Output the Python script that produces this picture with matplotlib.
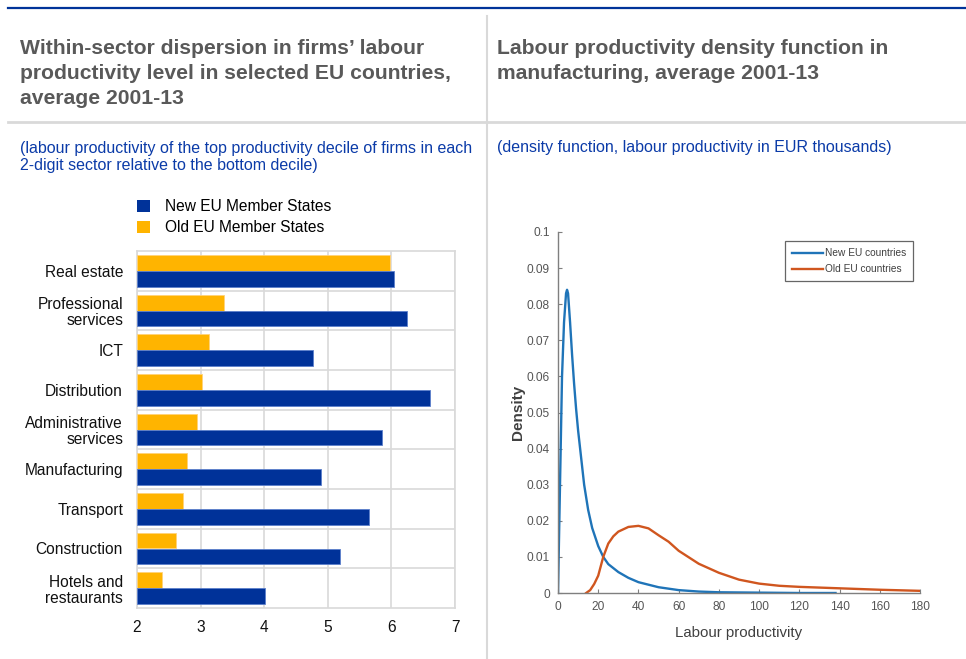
import numpy as np
import matplotlib
matplotlib.use("Agg")
import matplotlib.pyplot as plt
from matplotlib.lines import Line2D
from matplotlib.patches import Patch

plt.rcParams['font.family'] = ['Liberation Sans', 'DejaVu Sans']

# ---------------- data: left panel ----------------
sectors = ["Real estate", "Professional\nservices", "ICT", "Distribution",
           "Administrative\nservices", "Manufacturing", "Transport",
           "Construction", "Hotels and\nrestaurants"]
old_eu = [5.98, 3.37, 3.13, 3.02, 2.95, 2.78, 2.72, 2.61, 2.39]
new_eu = [6.04, 6.25, 4.77, 6.60, 5.85, 4.90, 5.64, 5.19, 4.02]
bar_xticks = [2, 3, 4, 5, 6, 7]

# ---------------- data: right panel ----------------
new_x = [0, 1, 2, 3, 4, 4.5, 5, 6, 7, 8, 9, 10, 11, 12, 13, 15, 17, 20, 22.5,
         25, 30, 35, 40, 50, 60, 70, 80, 100, 120, 138]
new_y = [0, 0.03, 0.06, 0.075, 0.083, 0.084, 0.083, 0.075, 0.066, 0.058, 0.051,
         0.045, 0.040, 0.035, 0.030, 0.023, 0.018, 0.013, 0.010, 0.008, 0.0058,
         0.0042, 0.0030, 0.0016, 0.0008, 0.0004, 0.0002, 0.0001, 0.0, 0.0]
old_x = [14, 16, 18, 20, 22.5, 25, 27.5, 30, 35, 40, 45, 50, 55, 60, 70, 80, 90,
         100, 110, 120, 140, 160, 180]
old_y = [0, 0.0008, 0.0025, 0.0048, 0.0100, 0.0137, 0.0157, 0.0170, 0.0183,
         0.0186, 0.0179, 0.0160, 0.0142, 0.0117, 0.0081, 0.0056, 0.0037, 0.0026,
         0.0020, 0.0017, 0.0013, 0.0009, 0.0006]
dens_xticks = list(range(0, 181, 20))
dens_yticks = [0, 0.01, 0.02, 0.03, 0.04, 0.05, 0.06, 0.07, 0.08, 0.09, 0.1]

BLUE = "#003299"
YELLOW = "#FFB400"
TITLE_GREY = "#595959"
SUB_BLUE = "#0B3BA8"
LINE_GREY = "#D9D9D9"

W, H = 966, 659
fig = plt.figure(figsize=(W / 100, H / 100), dpi=100)

def fx(px):
    return px / W

def fy(py):
    return 1 - py / H

# ---- frame decorations ----
fig.add_artist(Line2D([fx(8), 1], [fy(8), fy(8)], color="#003399", lw=1.6))
fig.add_artist(Line2D([fx(8), 1], [fy(122), fy(122)], color=LINE_GREY, lw=2))
fig.add_artist(Line2D([fx(487), fx(487)], [fy(16), 0], color=LINE_GREY, lw=1.5))

# ---- titles ----
title_kw = dict(ha="left", va="baseline", fontsize=15.2, fontweight="bold",
                color=TITLE_GREY, linespacing=1.4)
fig.text(fx(20), fy(104), "Within-sector dispersion in firms\u2019 labour\nproductivity level in selected EU countries,\naverage 2001-13",
         **title_kw)
fig.text(fx(497), fy(79), "Labour productivity density function in\nmanufacturing, average 2001-13",
         **title_kw)
fig.text(fx(20), fy(170), "(labour productivity of the top productivity decile of firms in each\n2-digit sector relative to the bottom decile)",
         ha="left", va="baseline", fontsize=11.5, color=SUB_BLUE, linespacing=1.2)
fig.text(fx(497), fy(152), "(density function, labour productivity in EUR thousands)",
         ha="left", va="baseline", fontsize=11.5, color=SUB_BLUE)

# ---------------- left bar chart ----------------
axL = fig.add_axes([fx(137), fy(608), fx(455) - fx(137), fy(251) - fy(608)])
pos = np.arange(len(sectors))
axL.barh(pos - 0.2, [v - 2 for v in old_eu], left=2, height=0.4, color=YELLOW,
         edgecolor="#FFD27A", linewidth=0.6, label="Old EU Member States", zorder=3)
axL.barh(pos + 0.2, [v - 2 for v in new_eu], left=2, height=0.4, color=BLUE,
         edgecolor="#5C7FCC", linewidth=0.6, label="New EU Member States", zorder=3)
axL.set_xlim(2, 7)
axL.set_ylim(len(sectors) - 0.5, -0.5)
axL.set_xticks(bar_xticks)
axL.set_xticklabels([str(t) for t in bar_xticks])
axL.set_yticks(pos)
axL.set_yticklabels(sectors, ha="right")
axL.set_yticks(pos[:-1] + 0.5, minor=True)
axL.tick_params(axis="y", which="both", length=0, pad=10, labelsize=11.2, colors="#111111")
axL.tick_params(axis="x", length=0, pad=9, labelsize=11.2, colors="#111111")
axL.grid(axis="x", color=LINE_GREY, lw=1.2, zorder=0)
axL.grid(axis="y", which="minor", color=LINE_GREY, lw=1.2, zorder=0)
for s in axL.spines.values():
    s.set_color(LINE_GREY)
    s.set_linewidth(1.2)
for lbl in axL.get_yticklabels():
    lbl.set_linespacing(1.1)

leg_handles = [Patch(facecolor=BLUE, edgecolor="none", label="New EU Member States"),
               Patch(facecolor=YELLOW, edgecolor="none", label="Old EU Member States")]
fig.legend(handles=leg_handles, loc="upper left", bbox_to_anchor=(fx(131), fy(193)),
           frameon=False, fontsize=11.2, handlelength=0.85, handleheight=0.85,
           handletextpad=0.95, labelspacing=0.4, borderaxespad=0)

# ---------------- right density chart ----------------
axR = fig.add_axes([fx(558), fy(593), fx(920) - fx(558), fy(232) - fy(593)])
axR.plot(new_x, new_y, color="#1F74B8", lw=1.7, label="New EU countries")
axR.plot(old_x, old_y, color="#D0561F", lw=1.7, label="Old EU countries")
axR.set_xlim(0, 180)
axR.set_ylim(0, 0.1)
axR.set_xticks(dens_xticks)
axR.set_yticks(dens_yticks)
axR.set_yticklabels(["0" if t == 0 else f"{t:g}" for t in dens_yticks])
axR.spines["top"].set_visible(False)
axR.spines["right"].set_visible(False)
for s in ("left", "bottom"):
    axR.spines[s].set_color("#7F7F7F")
    axR.spines[s].set_linewidth(1.0)
axR.tick_params(direction="in", length=3, width=0.8, colors="#7F7F7F",
                labelcolor="#555555", labelsize=8.6, pad=6)
axR.set_xlabel("Labour productivity", fontsize=10.8, color="#404040", labelpad=9)
axR.set_ylabel("Density", fontsize=11, color="#404040", fontweight="bold", labelpad=1)
lg = axR.legend(loc="upper right", bbox_to_anchor=(fx(913), fy(241)),
                bbox_transform=fig.transFigure, fontsize=7.3, frameon=True,
                fancybox=False, edgecolor="#404040", handlelength=3.0,
                handletextpad=0.2, borderpad=0.7, labelspacing=0.6,
                borderaxespad=0)
lg.get_frame().set_linewidth(0.9)
for t in lg.get_texts():
    t.set_color("#404040")

fig.savefig("out.png", dpi=100)
